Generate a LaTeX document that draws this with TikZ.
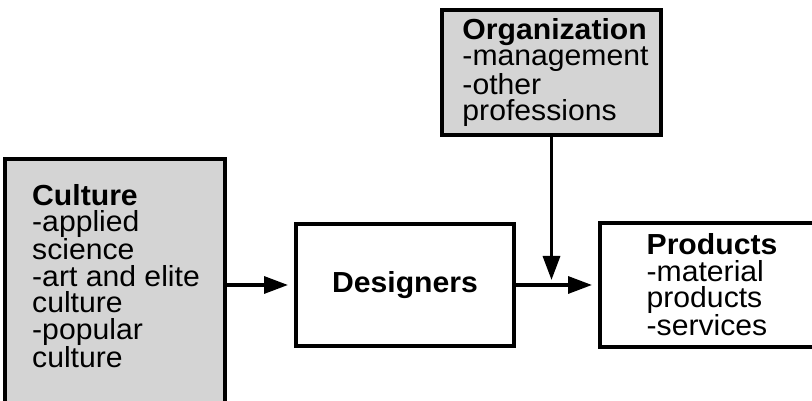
\documentclass[tikz,border=0pt]{standalone}
\usepackage{fontspec}
\setsansfont{Liberation Sans}[FakeStretch=1.04]
\usetikzlibrary{arrows.meta,positioning}
\tikzset{
  blk/.style={draw,line width=3.3pt,outer sep=0pt,inner sep=0pt,align=left},
  grey/.style={fill=black!17},
  flow/.style={line width=3.3pt,-{Triangle[length=24pt,width=17pt]}},
}
\begin{document}
\begin{tikzpicture}[x=1pt,y=1pt,font=\sffamily\fontsize{29}{26.5}\selectfont]
\clip (0,0) rectangle (812,401);
\draw
    node [blk,grey,minimum width=220pt,minimum height=300pt,anchor=north west] (culture) at (5,242) {};
\node [align=left,inner sep=0pt,anchor=north west] (culturetext) at (32,217)
    {\textbf{Culture}\\-applied\\science\\-art and elite\\culture\\-popular\\culture};
\draw
    node [blk,minimum width=218pt,minimum height=122pt] (designers) at (405,116) {\textbf{Designers}};
\draw
    node [blk,minimum width=240pt,minimum height=124pt,right=86pt of designers] (products)
    {\textbf{Products}\hspace*{16pt}\\-material\\products\\-services};
\draw
    node [blk,grey,minimum width=219pt,minimum height=125pt] (org) at (551.5,328.5)
    {\hspace{8pt}\textbf{Organization}\\\hspace{8pt}-management\\\hspace{8pt}-other\\\hspace{8pt}professions};
% arrows
\draw (culture.east |- designers.west) [flow,shorten >=8pt] -- (designers.west);
\draw (designers.east) [flow,shorten >=8pt] -- (products.west);
\draw (org.south) [flow,shorten >=5pt] -- (org.south |- designers.east);
\end{tikzpicture}
\end{document}
